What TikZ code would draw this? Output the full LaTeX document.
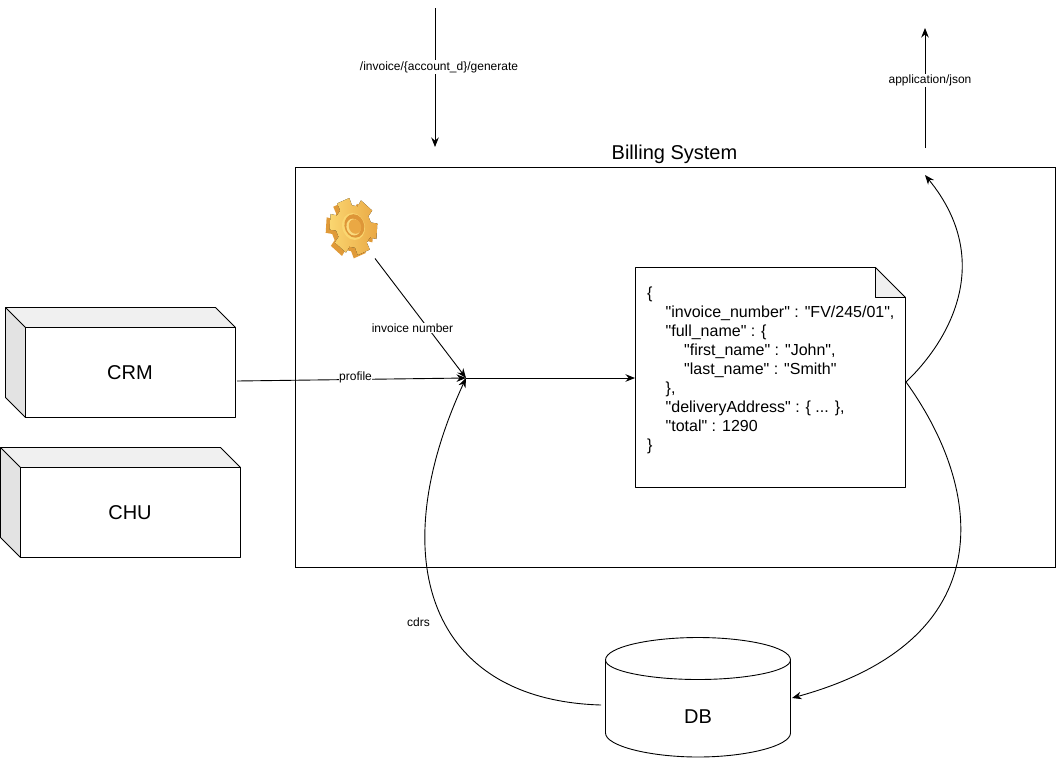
\documentclass[tikz,border=0pt]{standalone}
\usepackage{fontspec}
\setmainfont{Liberation Sans}
\newfontfamily\jsonf{Liberation Sans}
\usetikzlibrary{arrows.meta}
\newcommand{\fs}[1]{\fontsize{#1}{#1}\selectfont}
\definecolor{gearside}{RGB}{224,154,56}
\definecolor{gearlight}{RGB}{250,214,112}
\definecolor{geardark}{RGB}{234,168,68}
\definecolor{gearhole}{RGB}{222,150,56}
\tikzset{
  ln/.style={draw=black,line width=0.9pt},
  arr/.style={ln,-{Stealth[length=9.5pt,width=7.5pt]}},
  lab/.style={fill=white,inner sep=1pt,font=\fs{12}},
  big/.style={font=\fs{20}},
  side/.style={ln,line join=round},
  gearpt/.style={line join=round}
}
\begin{document}
\begin{tikzpicture}[x=1pt,y=-1pt]
\useasboundingbox (0,0) rectangle (1056,758);
\fill[white] (0,0) rectangle (1056,758);
% Billing system
\node[ln,minimum width=760pt,minimum height=400pt,inner sep=0,outer sep=0,anchor=north west] (billing) at (295.5,167.5) {};
\node[font=\fs{20}] (billingtitle) at (674.5,154) {Billing System};
% CRM box
\fill[black!11] (5.5,307.5) -- (25.5,327.5) -- (25.5,417.5) -- (5.5,397.5) -- cycle;
\fill[black!6] (5.5,307.5) -- (215.5,307.5) -- (235.5,327.5) -- (25.5,327.5) -- cycle;
\draw[side] (5.5,307.5) -- (215.5,307.5) -- (235.5,327.5) -- (235.5,417.5) -- (25.5,417.5) -- (5.5,397.5) -- cycle;
\draw[side] (5.5,307.5) -- (25.5,327.5) -- (235.5,327.5) (25.5,327.5) -- (25.5,417.5);
\node[big] (crm) at (130,373) {CRM};
% CHU box
\fill[black!11] (0.5,447.5) -- (20.5,467.5) -- (20.5,557.5) -- (0.5,537.5) -- cycle;
\fill[black!6] (0.5,447.5) -- (220.5,447.5) -- (240.5,467.5) -- (20.5,467.5) -- cycle;
\draw[side] (0.5,447.5) -- (220.5,447.5) -- (240.5,467.5) -- (240.5,557.5) -- (20.5,557.5) -- (0.5,537.5) -- cycle;
\draw[side] (0.5,447.5) -- (20.5,467.5) -- (240.5,467.5) (20.5,467.5) -- (20.5,557.5);
\node[big] (chu) at (130,513) {CHU};
% Gear
\begin{scope}[shift={(353.5,226.5)},cm={0.95,0,-0.1,1.12,(0,0)}]
  \begin{scope}[shift={(-4.5,3)}]
    \fill[gearside,gearpt]
      (-6:25.5) \foreach \a in {10,70,...,310} { -- (\a-16:25.5) -- (\a+16:25.5) -- (\a+21:19) -- (\a+39:19) } -- cycle;
  \end{scope}
  \fill[left color=gearlight,right color=geardark,gearpt]
    (-6:25.5) \foreach \a in {10,70,...,310} { -- (\a-16:25.5) -- (\a+16:25.5) -- (\a+21:19) -- (\a+39:19) } -- cycle;
  \fill[gearlight] (0,0) circle (12);
  \fill[gearhole] (1,-0.5) circle (10.5);
  \fill[gearlight!90!white] (0,0.5) circle (7.5);
  \fill[geardark] (1.5,0) circle (6.5);
\end{scope}
% Document
\fill[black!6] (875.5,267.5) -- (875.5,297.5) -- (905.5,297.5) -- cycle;
\draw[side] (635.5,267.5) -- (875.5,267.5) -- (905.5,297.5) -- (905.5,487.5) -- (635.5,487.5) -- cycle;
\draw[side] (875.5,267.5) -- (875.5,297.5) -- (905.5,297.5);
\node[anchor=north west,inner sep=0,align=left,font=\jsonf\fontsize{16}{19}\selectfont] (doc) at (647,287) {%
\{\\
\hspace*{18.5pt}"invoice\_number" : "FV/245/01",\\
\hspace*{18.5pt}"full\_name" : \{\\
\hspace*{37pt}"first\_name" : "John",\\
\hspace*{37pt}"last\_name" : "Smith"\\
\hspace*{18.5pt}\},\\
\hspace*{18.5pt}"deliveryAddress" : \{ ... \},\\
\hspace*{18.5pt}"total" : 1290\\
\}};
% DB
\draw[side,fill=white] (605.5,660) .. controls (605.5,647) and (650,637.5) .. (698,637.5) .. controls (746,637.5) and (790.5,647) .. (790.5,660) -- (790.5,733) .. controls (790.5,746) and (746,757) .. (698,757) .. controls (650,757) and (605.5,746) .. (605.5,733) -- cycle;
\draw[side] (605.5,660) .. controls (605.5,671) and (650,679.5) .. (698,679.5) .. controls (746,679.5) and (790.5,671) .. (790.5,660);
\node[big] (db) at (698,717) {DB};
% Coordinates
\coordinate (junction) at (466,378);
\coordinate (gearout) at (375,258.5);
\coordinate (crmout) at (237,381);
\coordinate (docin) at (635,378);
\coordinate (docout) at (906,382);
\coordinate (respin) at (925,175);
\coordinate (dbin) at (792,698);
\coordinate (dbout) at (601,705);
\coordinate (reqtop) at (435,8);
\coordinate (reqend) at (435,147);
\coordinate (jsonbot) at (925,148);
\coordinate (jsontop) at (925,28);
% Connectors
\draw[arr] (gearout) -- (junction);
\node[lab] (invlab) at (412.5,328) {invoice number};
\draw[arr] (crmout) -- (junction);
\node[lab,inner sep=0.5pt] (proflab) at (355.5,377) {profile};
\draw[arr] (junction) -- (docin);
\draw[arr] (docout) .. controls (948,342) and (996,262) .. (respin);
\draw[arr] (docout) .. controls (984,490) and (1003,640) .. (dbin);
\draw[arr] (dbout) .. controls (430,700) and (382,560) .. (junction);
\draw[arr] (reqtop) -- (reqend);
\node[lab] (reqlab) at (439,67) {/invoice/\{account\_d\}/generate};
\draw[arr] (jsonbot) -- (jsontop);
\node[lab] (jsonlab) at (930,80.5) {application/json};
\node[lab] (cdrs) at (418.5,622) {cdrs};
\end{tikzpicture}
\end{document}
